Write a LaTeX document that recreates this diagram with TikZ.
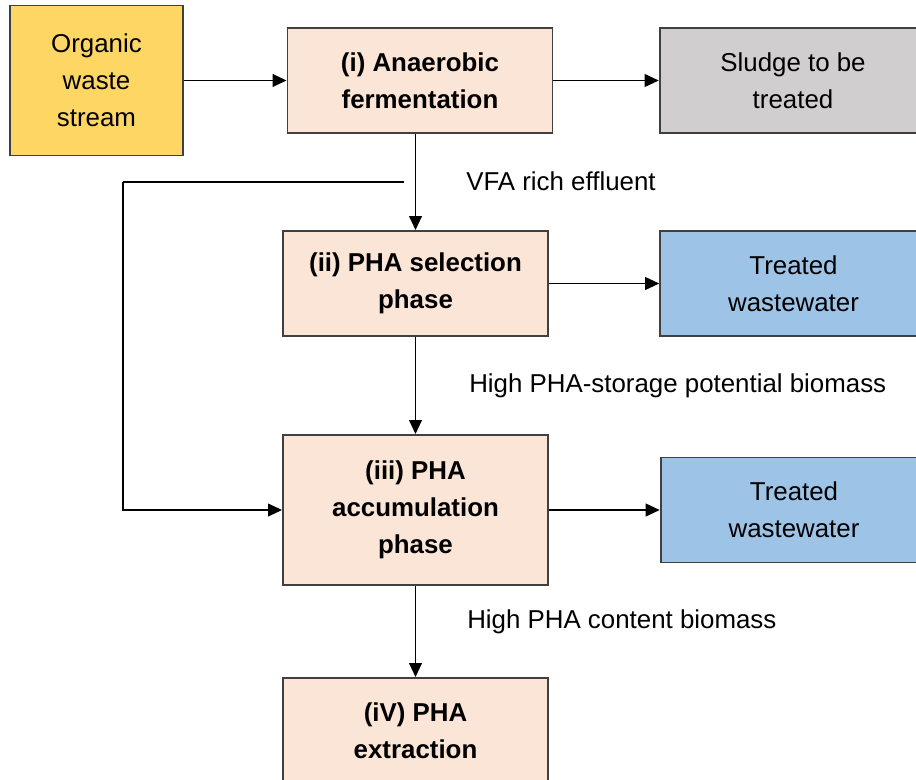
\documentclass[tikz,border=0pt]{standalone}
\usepackage{fontspec}
\setmainfont{Liberation Sans}
\usetikzlibrary{arrows.meta, positioning}

\definecolor{wasteyellow}{RGB}{253,214,100}
\definecolor{stagepeach}{RGB}{251,229,214}
\definecolor{sludgegray}{RGB}{208,206,206}
\definecolor{waterblue}{RGB}{157,195,230}

\tikzset{
	box/.style={draw=black!75, line width=1.4pt, inner sep=0pt, align=center,
		font=\fontsize{19.4}{27.75}\selectfont},
	stage/.style={box, fill=stagepeach, minimum width=198.75pt, minimum height=78.75pt,
		font=\fontsize{19.4}{27.75}\selectfont\bfseries},
	sink/.style={box, minimum width=200pt, minimum height=78.75pt},
	note/.style={anchor=west, inner sep=0pt, font=\fontsize{19.4}{27.75}\selectfont},
	flow/.style={line width=1.3pt, -{Triangle[length=10.5pt,width=9.5pt]}},
	plain/.style={line width=1.3pt}
}

\begin{document}
\begin{tikzpicture}[x=0.75pt, y=-0.75pt]
	\clip (0,0) rectangle (916,780);
	\node[box, fill=wasteyellow, minimum width=129.75pt, minimum height=112.5pt] (waste) at (96.5,80.5) {Organic\\waste\\stream};
	\node[stage] (ferm) at (420,80.5) {(i) Anaerobic\\fermentation};
	\node[sink, fill=sludgegray] (sludge) at (793,80.5) {Sludge to be\\treated};
	\node[stage] (sel) at (415.5,283.5) {(ii) PHA selection\\phase};
	\node[sink, fill=waterblue] (water1) at (793.5,283.5) {Treated\\wastewater};
	\node[stage, minimum height=112.5pt] (acc) at (415.5,510) {(iii) PHA\\accumulation\\phase};
	\node[sink, fill=waterblue] (water2) at (794,510) {Treated\\wastewater};
	\node[stage] (ext) at (415.5,730.5) {(iV) PHA\\extraction};

	\node[note] (vfa) at (466,181) {VFA rich effluent};
	\node[note] (storage) at (469,386) {High PHA-storage potential biomass};
	\node[note] (content) at (467,622) {High PHA content biomass};

	\coordinate (split) at (404,182);
	\coordinate (bend) at (123,182);

	\draw[flow] (waste) -- (ferm);
	\draw[flow] (ferm) -- (sludge);
	\draw[flow] (sel.north |- ferm.south) -- (sel.north);
	\draw[flow] (sel) -- (water1);
	\draw[flow] (sel) -- (acc);
	\draw[flow] (acc) -- (water2);
	\draw[flow] (acc) -- (ext);
	\draw[plain] (split) -- (bend);
	\draw[flow] (bend) |- (acc.west);
\end{tikzpicture}
\end{document}
